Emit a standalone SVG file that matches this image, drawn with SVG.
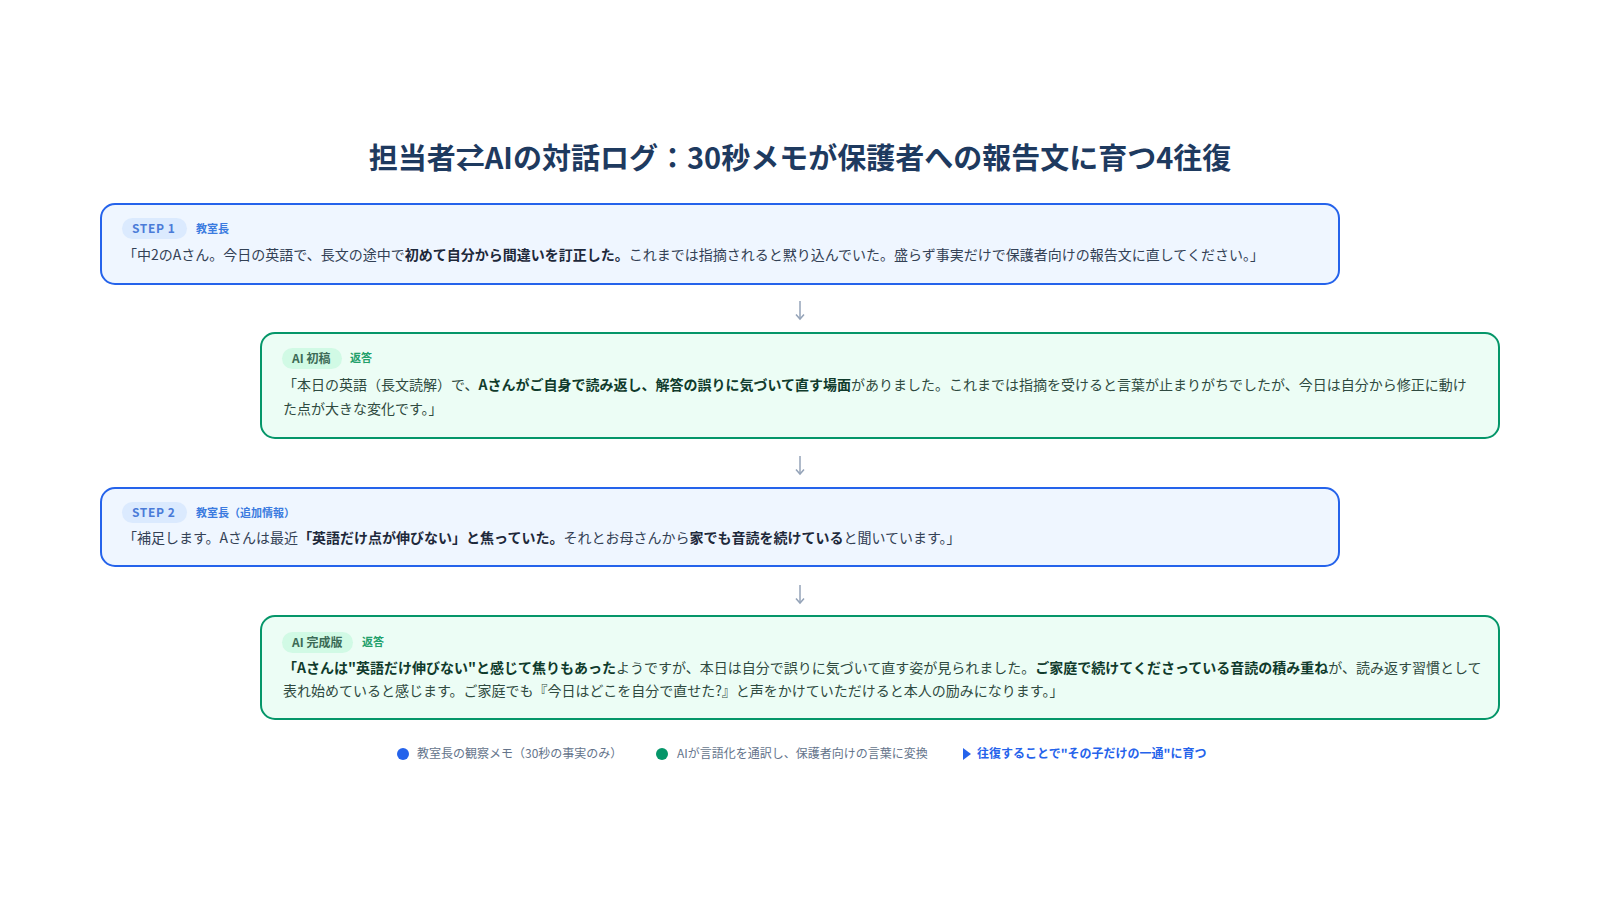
<svg xmlns="http://www.w3.org/2000/svg" width="1600" height="900" viewBox="0 0 1600 900">
<defs>
<marker id="ah" viewBox="0 0 10 10" refX="8.5" refY="5" markerWidth="10" markerHeight="10" markerUnits="userSpaceOnUse" orient="auto">
<path d="M4 1 L8.5 5 L4 9" fill="none" stroke="#94a3b8" stroke-width="1.5"/>
</marker>
<style>
text{font-family:"Noto Sans CJK JP","Noto Sans",sans-serif}
.title{font-size:29px;font-weight:700;fill:#1e3a5f}
.ubox{fill:#eff6ff;stroke:#2563eb;stroke-width:2}
.abox{fill:#ecfdf5;stroke:#059669;stroke-width:2}
.ubadge{fill:#dbeafe}
.abadge{fill:#d1fae5}
.ubt{font-size:12px;font-weight:700;fill:#4a7bd8;letter-spacing:0.6px}
.abt{font-size:12px;font-weight:700;fill:#3d6b57}
.uwho{font-size:11px;font-weight:700;fill:#3b7be0}
.awho{font-size:11px;font-weight:700;fill:#22a06b}
.ut{font-size:14px;fill:#334155}
.at{font-size:14px;fill:#2f4a40}
.b{font-weight:700}
.ub{fill:#1e293b}
.abb{fill:#103b2c}
.conn{stroke:#94a3b8;stroke-width:1.5;fill:none}
.leg{font-size:12px;fill:#64748b}
.legb{font-size:12px;font-weight:700;fill:#2563eb}
</style>
</defs>
<rect width="1600" height="900" fill="#ffffff"/>
<text class="title" x="800" y="169" text-anchor="middle">担当者⇄AIの対話ログ：30秒メモが保護者への報告文に育つ4往復</text>

<g id="step1">
<rect class="ubox" x="101" y="204" width="1238" height="80" rx="14"/>
<rect class="ubadge" x="122" y="218" width="65" height="21" rx="10.5"/>
<text class="ubt" x="132" y="233">STEP 1</text>
<text class="uwho" x="196" y="233">教室長</text>
<text class="ut" x="123" y="260">「中2のAさん。今日の英語で、長文の途中で<tspan class="b ub">初めて自分から間違いを訂正した。</tspan>これまでは指摘されると黙り込んでいた。盛らず事実だけで保護者向けの報告文に直してください。」</text>
</g>

<g id="ai1">
<rect class="abox" x="261" y="333" width="1238" height="105" rx="14"/>
<rect class="abadge" x="282" y="348" width="60" height="21" rx="10.5"/>
<text class="abt" x="292" y="363">AI 初稿</text>
<text class="awho" x="350" y="362">返答</text>
<text class="at" x="283" y="390">「本日の英語（長文読解）で、<tspan class="b abb">Aさんがご自身で読み返し、解答の誤りに気づいて直す場面</tspan>がありました。これまでは指摘を受けると言葉が止まりがちでしたが、今日は自分から修正に動け</text>
<text class="at" x="283" y="414">た点が大きな変化です。」</text>
</g>

<g id="step2">
<rect class="ubox" x="101" y="488" width="1238" height="78" rx="14"/>
<rect class="ubadge" x="122" y="502" width="65" height="21" rx="10.5"/>
<text class="ubt" x="132" y="517">STEP 2</text>
<text class="uwho" x="196" y="517">教室長（追加情報）</text>
<text class="ut" x="123" y="543">「補足します。Aさんは最近<tspan class="b ub">「英語だけ点が伸びない」と焦っていた。</tspan>それとお母さんから<tspan class="b ub">家でも音読を続けている</tspan>と聞いています。」</text>
</g>

<g id="ai2">
<rect class="abox" x="261" y="616" width="1238" height="103" rx="14"/>
<rect class="abadge" x="282" y="632" width="71" height="21" rx="10.5"/>
<text class="abt" x="292" y="647">AI 完成版</text>
<text class="awho" x="362" y="646">返答</text>
<text class="at" x="283" y="673"><tspan class="b abb">「Aさんは"英語だけ伸びない"と感じて焦りもあった</tspan>ようですが、本日は自分で誤りに気づいて直す姿が見られました。<tspan class="b abb">ご家庭で続けてくださっている音読の積み重ね</tspan>が、読み返す習慣として</text>
<text class="at" x="283" y="696">表れ始めていると感じます。ご家庭でも『今日はどこを自分で直せた?』と声をかけていただけると本人の励みになります。」</text>
</g>

<g id="connectors">
<path class="conn" d="M800 301 V319" marker-end="url(#ah)"/>
<path class="conn" d="M800 456 V474" marker-end="url(#ah)"/>
<path class="conn" d="M800 585 V603" marker-end="url(#ah)"/>
</g>

<g id="legend">
<circle cx="403" cy="754" r="6" fill="#2563eb"/>
<text class="leg" x="417" y="758">教室長の観察メモ（30秒の事実のみ）</text>
<circle cx="662" cy="754" r="6" fill="#059669"/>
<text class="leg" x="677" y="758">AIが言語化を通訳し、保護者向けの言葉に変換</text>
<path d="M963 748 L971 754 L963 760 Z" fill="#2563eb"/>
<text class="legb" x="977" y="758">往復することで"その子だけの一通"に育つ</text>
</g>
</svg>
